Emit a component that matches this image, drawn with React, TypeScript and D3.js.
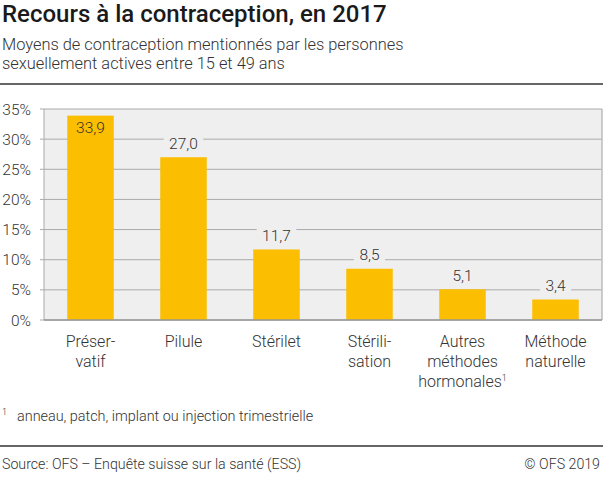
import React from "react";
import * as d3 from "d3";

const categories = ["Préservatif", "Pilule", "Stérilet", "Stérilisation", "Autres méthodes hormonales", "Méthode naturelle"];
const categoryLines = [["Préser-", "vatif"], ["Pilule"], ["Stérilet"], ["Stérili-", "sation"], ["Autres", "méthodes", "hormonales"], ["Méthode", "naturelle"]];
const categoryNote = [false, false, false, false, true, false];
const values = [33.9, 27.0, 11.7, 8.5, 5.1, 3.4];
const yTicks = [0, 5, 10, 15, 20, 25, 30, 35];

const W = 603, H = 477;
const FONT = "Roboto, 'Noto Sans', sans-serif";

export default function App() {
  const left = 44, right = 602, top = 109, bottom = 320;
  const x = d3.scaleBand<string>().domain(categories).range([left, right]).paddingInner(0.5).paddingOuter(0.25);
  const y = d3.scaleLinear().domain([0, 35]).range([bottom, top]);
  const fmt = (v: number) => d3.format(".1f")(v).replace(".", ",");

  return (
    <svg width={W} height={H} style={{ position: "absolute", left: 0, top: 0, fontFamily: FONT }}>
      <rect x={0} y={0} width={W} height={H} fill="#fff" />
      <text x={2} y={22} fontSize={24} fontWeight={500} fill="#1a1a1a">Recours à la contraception, en 2017</text>
      <text x={2} y={50} fontSize={16.4} fontWeight={300} fill="#333">Moyens de contraception mentionnés par les personnes</text>
      <text x={2} y={69} fontSize={16.4} fontWeight={300} fill="#333">sexuellement actives entre 15 et 49 ans</text>
      <rect x={0} y={83} width={W} height={2} fill="#666" />

      <rect x={left} y={top} width={right - left} height={bottom - top} fill="#efefef" />
      {yTicks.map((t) => (
        <g key={t}>
          <line x1={left} x2={right} y1={y(t)} y2={y(t)} stroke="#aaa" strokeWidth={1} />
          <line x1={40} x2={left} y1={y(t)} y2={y(t)} stroke="#aaa" strokeWidth={1} />
          <text x={31} y={y(t) + 5.5} textAnchor="end" fontSize={15.5} fontWeight={300} fill="#333">{t}%</text>
        </g>
      ))}
      <line x1={left} x2={left} y1={top} y2={bottom} stroke="#aaa" strokeWidth={1} />
      <line x1={right} x2={right} y1={top} y2={bottom} stroke="#bbb" strokeWidth={1.5} />
      {categories.map((c, i) => {
        const bx = x(c)!;
        const bw = x.bandwidth();
        const by = y(values[i]);
        const inside = by - 26 < top;
        const ty = inside ? by + 17 : by - 8.5;
        const label = fmt(values[i]);
        const lw = label.length * 8.4 + 6;
        const cx = bx + bw / 2;
        return (
          <g key={c}>
            <rect x={bx} y={by} width={bw} height={bottom - by} fill="#fbbe00" />
            <rect x={cx - lw / 2} y={ty - 13} width={lw} height={17} fill={inside ? "#fbbe00" : "#efefef"} />
            <text x={cx} y={ty} textAnchor="middle" fontSize={15.5} fontWeight={300} fill="#333">{label}</text>
            {categoryLines[i].map((ln, k) => (
              <text key={k} x={cx} y={346.5 + k * 20} textAnchor="middle" fontSize={16} fontWeight={300} fill="#333">
                {ln}
                {categoryNote[i] && k === categoryLines[i].length - 1 ? (
                  <tspan fontSize={9} dy={-6}>1</tspan>
                ) : null}
              </text>
            ))}
          </g>
        );
      })}
      <line x1={left} x2={right} y1={bottom} y2={bottom} stroke="#999" strokeWidth={1.5} />

      <text x={2} y={415} fontSize={9} fontWeight={300} fill="#333">1</text>
      <text x={17} y={421} fontSize={14.4} fontWeight={300} fill="#333">anneau, patch, implant ou injection trimestrielle</text>
      <rect x={0} y={445} width={W} height={2} fill="#666" />
      <text x={2} y={469} fontSize={14.2} fontWeight={300} fill="#333">Source: OFS – Enquête suisse sur la santé (ESS)</text>
      <text x={600} y={469} textAnchor="end" fontSize={14.2} fontWeight={300} fill="#333">© OFS 2019</text>
    </svg>
  );
}
